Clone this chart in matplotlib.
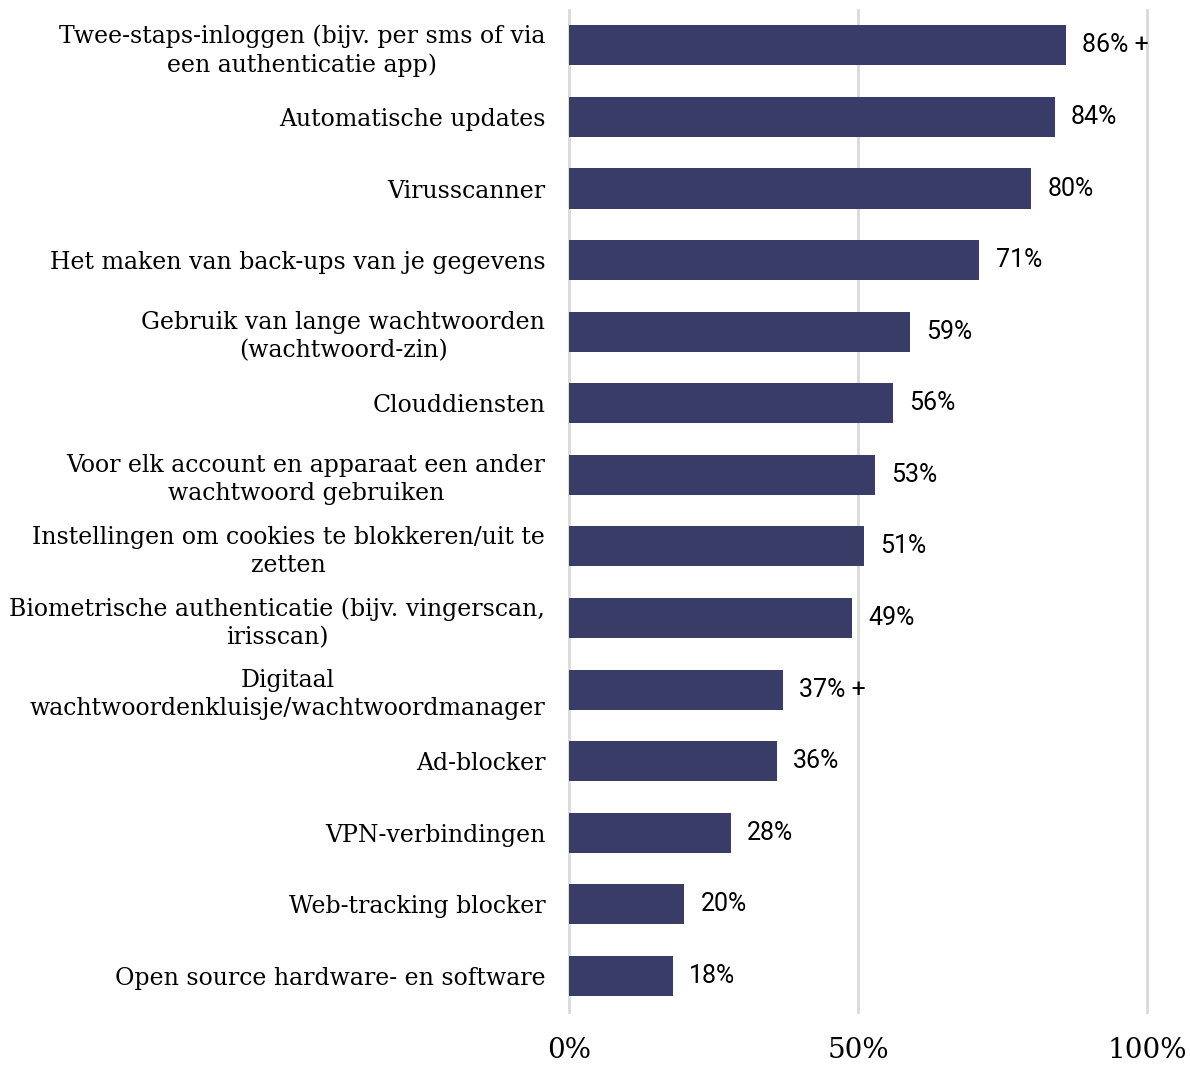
import matplotlib
matplotlib.use('Agg')
import matplotlib.pyplot as plt
import numpy as np

categories = [
    'Twee-staps-inloggen (bijv. per sms of via\neen authenticatie app)',
    'Automatische updates',
    'Virusscanner',
    'Het maken van back-ups van je gegevens',
    'Gebruik van lange wachtwoorden\n(wachtwoord-zin)',
    'Clouddiensten',
    'Voor elk account en apparaat een ander\nwachtwoord gebruiken',
    'Instellingen om cookies te blokkeren/uit te\nzetten',
    'Biometrische authenticatie (bijv. vingerscan,\nirisscan)',
    'Digitaal\nwachtwoordenkluisje/wachtwoordmanager',
    'Ad-blocker',
    'VPN-verbindingen',
    'Web-tracking blocker',
    'Open source hardware- en software',
]
values = [86, 84, 80, 71, 59, 56, 53, 51, 49, 37, 36, 28, 20, 18]
markers = ['+', '', '', '', '', '', '', '', '', '+', '', '', '', '']
xticks = [0, 50, 100]
xtick_labels = ['0%', '50%', '100%']

bar_color = '#383c66'
grid_color = '#d9d9d9'

fig = plt.figure(figsize=(11.9, 10.66), dpi=100)
ax = fig.add_axes([0.478, 0.051, 0.486, 0.940])

y = np.arange(len(categories))
for gx in xticks:
    ax.axvline(gx, color=grid_color, lw=2, zorder=0, clip_on=False)
ax.barh(y, values, height=0.56, color=bar_color, zorder=2)

for yi, v, m in zip(y, values, markers):
    txt = f'{v}%' + (f' {m}' if m else '')
    ax.text(v + 2.8, yi, txt, va='center', ha='left', fontsize=18,
            family='Roboto', color='black')

ax.set_xlim(0, 100)
ax.set_ylim(len(categories) - 0.5, -0.5)
ax.set_yticks(y)
ax.set_yticklabels(categories, fontsize=17, family='DejaVu Serif',
                   multialignment='center', linespacing=1.28)
ax.set_xticks(xticks)
ax.set_xticklabels(xtick_labels, fontsize=20, family='DejaVu Serif')
ax.tick_params(axis='y', length=0, pad=17)
ax.tick_params(axis='x', length=0, pad=18)
for s in ax.spines.values():
    s.set_visible(False)

fig.savefig('out.png', dpi=100)
